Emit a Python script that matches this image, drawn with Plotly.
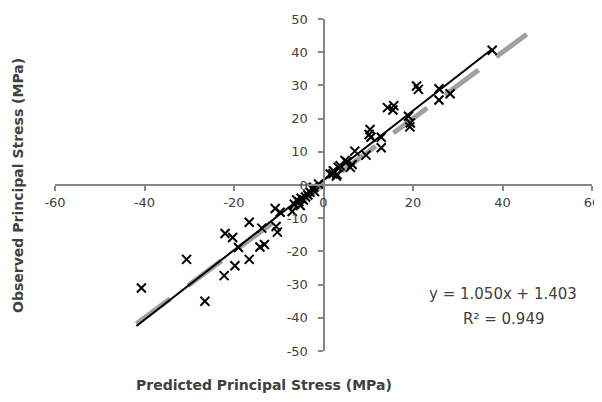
import plotly.graph_objects as go

# Observed vs predicted principal stress (MPa)
predicted = [37.7, 20.8, 21.2, 25.8, 25.8, 28.3, 14.3, 15.5, 15.7, 19.0, 19.4, 19.3,
             10.4, 10.2, 10.6, 12.9, 12.9, 7.0, 9.5, 4.8, 5.2, 6.4, 6.0, 3.3, 3.7,
             2.2, 2.1, 2.9, 1.5, 3.0,
             -1.1, -2.2, -2.6, -3.0, -3.5, -4.0, -4.5, -5.0, -5.5, -6.0, -6.5, -5.2,
             -7.0, -9.7, -10.8, -2.0,
             -10.6, -10.3, -13.8, -14.2, -13.2, -16.6, -16.6, -19.0, -19.8, -20.3,
             -22.0, -22.2, -26.5, -30.6, -40.7]
observed = [40.6, 29.8, 28.8, 29.0, 25.6, 27.5, 23.3, 22.6, 23.9, 20.7, 18.7, 17.5,
            16.7, 15.2, 14.4, 14.4, 11.2, 10.2, 9.0, 7.4, 7.0, 6.2, 5.3, 5.3, 5.8,
            4.3, 3.4, 2.7, 3.3, 3.2,
            0.3, -0.7, -1.0, -2.2, -3.0, -3.6, -4.5, -4.0, -5.0, -4.5, -5.8, -6.2,
            -8.0, -8.2, -7.1, -2.0,
            -12.5, -14.2, -13.0, -18.7, -17.9, -11.2, -22.4, -18.8, -24.3, -15.8,
            -14.6, -27.3, -35.0, -22.4, -31.0]

# 1:1 reference line extent and linear trend line
ref_line = [-41.8, 45.4]
trend_x = [-41.8, 37.7]
slope = 1.050
intercept = 1.403
trend_y = [slope * v + intercept for v in trend_x]

x_ticks = [-60, -40, -20, 0, 20, 40, 60]
y_ticks = [-50, -40, -30, -20, -10, 0, 10, 20, 30, 40, 50]

FONT = "DejaVu Sans"
TXT = "#404040"
AX = "#868686"

fig = go.Figure()
fig.add_trace(go.Scatter(
    x=ref_line, y=ref_line, mode="lines",
    line=dict(color="#a0a0a0", width=5, dash="42px,22px"),
    hoverinfo="skip", showlegend=False))
fig.add_trace(go.Scatter(
    x=predicted, y=observed, mode="markers",
    marker=dict(symbol="x-thin", size=9, line=dict(color="black", width=2)),
    showlegend=False))
fig.add_trace(go.Scatter(
    x=trend_x, y=trend_y, mode="lines",
    line=dict(color="black", width=2), showlegend=False))

fig.update_layout(
    width=594, height=394,
    margin=dict(l=47, r=10, t=11, b=51, autoexpand=False),
    paper_bgcolor="white", plot_bgcolor="white",
    font=dict(family=FONT, size=13, color=TXT),
    xaxis=dict(range=[-60, 60], tickvals=x_ticks, ticktext=[str(v) for v in x_ticks],
               showgrid=False, zeroline=False, showline=True, linecolor=AX, linewidth=2,
               ticks="outside", ticklen=5, tickcolor=AX, tickwidth=2,
               anchor="free", position=0.5, automargin=False),
    yaxis=dict(range=[-50, 50], tickvals=y_ticks, ticktext=[str(v) for v in y_ticks],
               showgrid=False, zeroline=False, showline=True, linecolor=AX, linewidth=2,
               ticks="outside", ticklen=5, tickcolor=AX, tickwidth=2,
               anchor="free", position=0.5, ticklabelstandoff=7, automargin=False),
    annotations=[
        dict(text="<b>Predicted Principal Stress (MPa)</b>", xref="paper", yref="paper",
             x=0.39, y=-0.103, showarrow=False, font=dict(size=14, color=TXT),
             xanchor="center", yanchor="middle"),
        dict(text="<b>Observed Principal Stress (MPa)</b>", xref="paper", yref="paper",
             x=-0.069, y=0.50, showarrow=False, textangle=-90, font=dict(size=14, color=TXT),
             xanchor="center", yanchor="middle"),
        dict(text="y = 1.050x + 1.403", xref="paper", yref="paper",
             x=0.835, y=0.171, showarrow=False, font=dict(size=15, color=TXT),
             xanchor="center", yanchor="middle"),
        dict(text="R² = 0.949", xref="paper", yref="paper",
             x=0.835, y=0.096, showarrow=False, font=dict(size=15, color=TXT),
             xanchor="center", yanchor="middle"),
    ],
)

fig.write_html("out.html")
